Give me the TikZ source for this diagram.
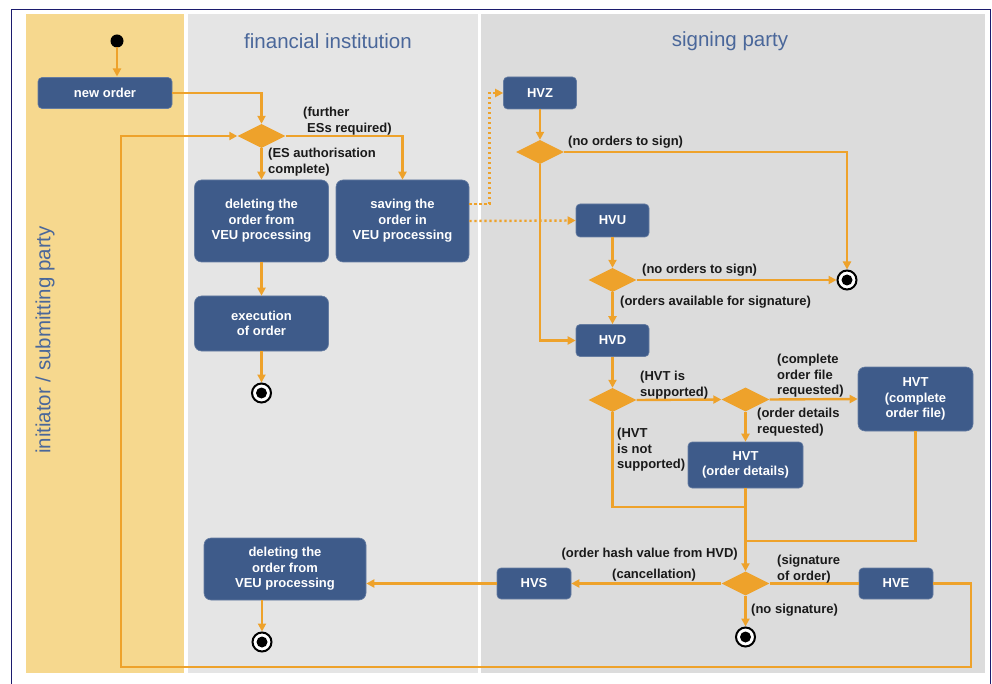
\documentclass[tikz,border=0pt]{standalone}
\usepackage{fontspec}
\setmainfont{Liberation Sans}
\usetikzlibrary{shapes.geometric,arrows.meta}
\definecolor{flow}{HTML}{EEA22B}
\definecolor{boxblue}{HTML}{3E5B8A}
\definecolor{laneyellow}{HTML}{F6D88E}
\definecolor{lanegrayA}{HTML}{E5E5E5}
\definecolor{lanegrayB}{HTML}{DCDCDC}
\definecolor{titleblue}{HTML}{4A679A}
\definecolor{framenavy}{HTML}{1C1C6E}
\definecolor{labeltext}{HTML}{1A1A1A}
\begin{document}
\begin{tikzpicture}[x=1pt,y=-1pt,
  activity/.style={draw=boxblue!80!white, line width=0.6pt, fill=boxblue, rounded corners=7pt,
    text=white, font=\fontsize{13}{15.5}\selectfont\bfseries, align=center, inner sep=0pt},
  small/.style={activity, rounded corners=4pt},
  decision/.style={diamond, fill=flow, draw=none, inner sep=0pt, minimum width=48pt, minimum height=24pt},
  final/.style={circle, draw=black, line width=2pt, fill=white, minimum size=19pt, inner sep=0pt,
    path picture={\fill[black] (path picture bounding box.center) circle (5.5pt);}},
  flowline/.style={draw=flow, line width=2.4pt},
  flowarrow/.style={flowline, -{Triangle[length=8pt,width=8pt]}},
  dotflow/.style={draw=flow, line width=2.4pt, dash pattern=on 2.4pt off 2.6pt, -{Triangle[length=8pt,width=8pt]}},
  cond/.style={text=labeltext, font=\fontsize{13}{15.5}\selectfont\bfseries, align=left, inner sep=0pt},
  lanetitle/.style={text=titleblue, font=\fontsize{20.5}{24}\selectfont}
]
\useasboundingbox (0,0) rectangle (992,684);
\clip (0,0) rectangle (992,684);

% swimlanes and frame
\fill[laneyellow] (26,14) rectangle (184,673);
\fill[lanegrayA] (188,14) rectangle (478,673);
\fill[lanegrayB] (481,14) rectangle (985,673);
\draw[framenavy, line width=1.2pt] (11.5,9.5) rectangle (990.5,700);

\node[lanetitle] (titleFI) at (328,41) {financial institution};
\node[lanetitle] (titleSP) at (730,41) {signing party};
\node[lanetitle, rotate=90] (titleIP) at (45,340) {initiator / submitting party};

% initiator / financial institution
\fill[black] (117,41) circle (6.5pt);
\coordinate (start) at (117,47.5);
\node[small, minimum width=134pt, minimum height=31pt] (neworder) at (105,93) {new order};
\node[decision] (d1) at (261.5,136) {};
\node[activity, minimum width=134pt, minimum height=82pt] (del1) at (261.5,221) {deleting the\\order from\\VEU processing};
\node[activity, minimum width=133pt, minimum height=82pt] (save) at (402.5,221) {saving the\\order in\\VEU processing};
\node[activity, minimum width=134pt, minimum height=55pt] (exec) at (261.5,323.5) {execution\\of order};
\node[final] (end1) at (261.5,393) {};

% signing party
\node[small, minimum width=73pt, minimum height=32pt] (hvz) at (540,93) {HVZ};
\node[decision] (d2) at (540,152) {};
\node[small, minimum width=73pt, minimum height=33pt] (hvu) at (612.5,220.5) {HVU};
\node[decision] (d3) at (612.5,280) {};
\node[final] (end2) at (847,280) {};
\node[small, minimum width=73pt, minimum height=32pt] (hvd) at (612.5,340.5) {HVD};
\node[decision] (d4) at (612.5,400) {};
\node[decision] (d5) at (745.5,399.5) {};
\node[activity, minimum width=115pt, minimum height=64pt] (hvtc) at (915.5,399) {HVT\\(complete\\order file)};
\node[small, minimum width=115pt, minimum height=46pt] (hvto) at (745.5,465) {HVT\\(order details)};
\coordinate (j1) at (745.5,507);
\coordinate (j2) at (745.5,541);
\node[decision] (d6) at (745.5,583.5) {};
\node[small, minimum width=74pt, minimum height=31pt] (hvs) at (534,583.5) {HVS};
\node[small, minimum width=74pt, minimum height=31pt] (hve) at (896,583.5) {HVE};
\node[activity, minimum width=162pt, minimum height=62pt] (del2) at (285,569) {deleting the\\order from\\VEU processing};
\node[final] (end3) at (262,642) {};
\node[final] (end4) at (745.5,637) {};
\coordinate (loopR) at (971,667);
\coordinate (loopL) at (121,667);
\coordinate (dotA) at (489.5,204);

% connectors
\draw[flowarrow] (start) -- (117,76.5);
\draw[flowarrow] (neworder.east) -| (d1.north);
\draw[flowarrow] (d1.east) -| (save.north);
\draw[flowarrow] (d1.south) -- (del1.north);
\draw[flowarrow] (del1.south) -- (exec.north);
\draw[flowarrow] (exec.south) -- (end1.north);
\draw[dotflow] (save.east |- dotA) -- (dotA) |- (hvz.west);
\draw[dotflow] (save.east) -- (hvu.west);
\draw[flowarrow] (hvz.south) -- (d2.north);
\draw[flowarrow] (d2.east) -| (end2.north);
\draw[flowarrow] (d2.south) |- (hvd.west);
\draw[flowarrow] (hvu.south) -- (d3.north);
\draw[flowarrow] (d3.east) -- (end2.west);
\draw[flowarrow] (d3.south) -- (hvd.north);
\draw[flowarrow] (hvd.south) -- (d4.north);
\draw[flowarrow] (d4.east) -- (d5.west);
\draw[flowarrow] (d5.east) -- (hvtc.west);
\draw[flowarrow] (d5.south) -- (hvto.north);
\draw[flowline] (d4.south) |- (j1);
\draw[flowline] (hvtc.south) |- (j2);
\draw[flowarrow] (hvto.south) -- (d6.north);
\draw[flowarrow] (d6.west) -- (hvs.east);
\draw[flowline] (d6.east) -- (hve.west);
\draw[flowarrow] (hvs.west) -- (hvs.west -| del2.east);
\draw[flowarrow] (del2.south -| end3) -- (end3.north);
\draw[flowarrow] (d6.south) -- (end4.north);
\draw[flowarrow] (hve.east) -| (loopR) -- (loopL) |- (d1.west);

% guard labels
\node[cond, anchor=north west] (lFurther) at (303,107) {(further\\\hspace{4pt}ESs required)};
\node[cond, anchor=north west] (lComplete) at (268,148) {(ES authorisation\\complete)};
\node[cond, anchor=north west] (lNone1) at (568,136) {(no orders to sign)};
\node[cond, anchor=north west] (lNone2) at (642,264) {(no orders to sign)};
\node[cond, anchor=north west] (lAvail) at (620,296) {(orders available for signature)};
\node[cond, anchor=north west] (lSupp) at (640,371) {(HVT is\\supported)};
\node[cond, anchor=north west] (lFile) at (777,354) {(complete\\order file\\requested)};
\node[cond, anchor=north west] (lDetails) at (757,408) {(order details\\requested)};
\node[cond, anchor=north west] (lNotSupp) at (617,428) {(HVT\\is not\\supported)};
\node[cond, anchor=north east] (lHash) at (738,548) {(order hash value from HVD)};
\node[cond, anchor=north west] (lCancel) at (612,569) {(cancellation)};
\node[cond, anchor=north west] (lSig) at (777,555) {(signature\\of order)};
\node[cond, anchor=north west] (lNoSig) at (751,604) {(no signature)};
\end{tikzpicture}
\end{document}
